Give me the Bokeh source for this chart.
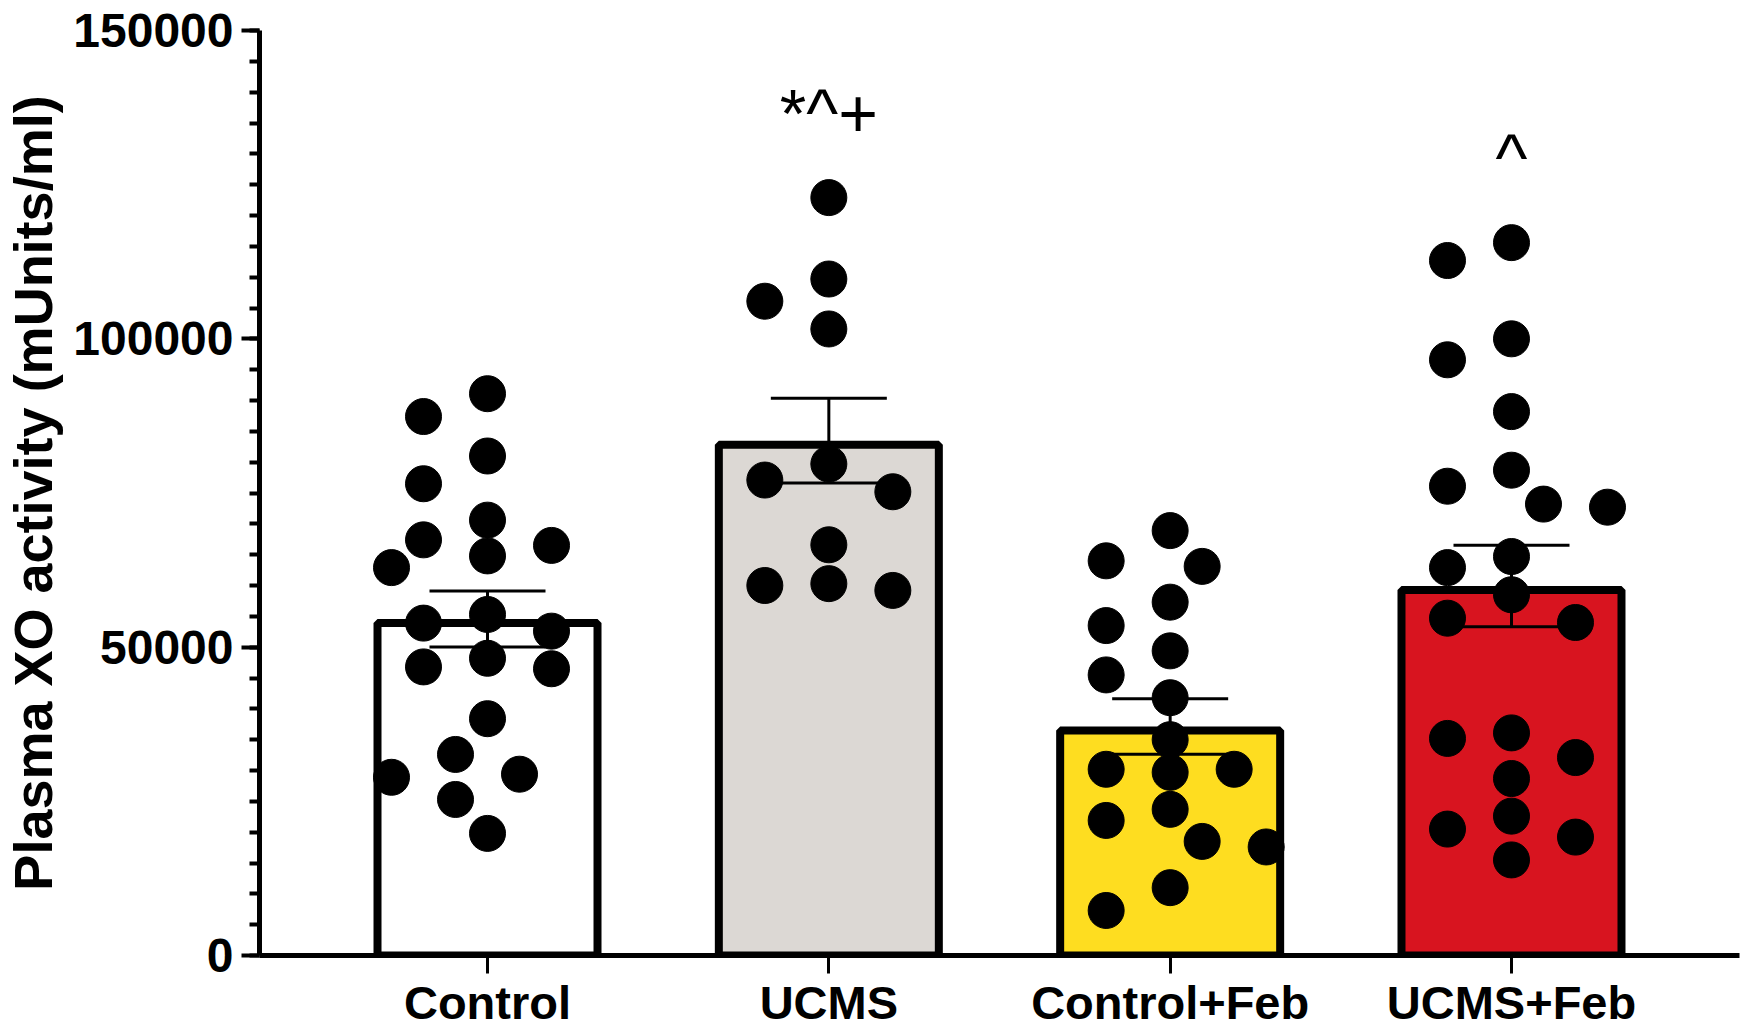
import numpy as np
from bokeh.plotting import figure
from bokeh.models import Range1d, FixedTicker, SingleIntervalTicker, ColumnDataSource, Whisker, TeeHead
from bokeh.core.properties import value
from bokeh.embed import file_html
from bokeh.resources import INLINE

# ---------------- data ----------------
categories = ["Control", "UCMS", "Control+Feb", "UCMS+Feb"]
control = [91100, 87400, 81000, 76500, 70600, 66500, 64800, 67400, 62900, 53900, 55300,
           52600, 46500, 46800, 48200, 38400, 32600, 28900, 29400, 25300, 19800]
ucms = [122900, 109700, 106100, 101600, 79700, 77100, 75200, 66600, 60300, 59200, 60000]
control_feb = [68900, 63100, 64000, 57300, 53500, 49400, 45500, 41800, 35000, 29700, 30200,
               30200, 21900, 23700, 17600, 18500, 11000, 7300]
ucms_feb = [115600, 112700, 100000, 96600, 88200, 78700, 72700, 76100, 73200, 64700, 62900,
            58500, 54000, 54700, 36100, 35200, 32100, 28700, 22600, 20500, 19200, 15500]
groups = [control, ucms, control_feb, ucms_feb]
bar_colors = ["#ffffff", "#dcd8d4", "#fedd20", "#d8141f"]
significance = ["", "*^+", "", "^"]
y_label = "Plasma XO activity (mUnits/ml)"

# ---------------- layout ----------------
W, H = 1750, 1033
BL, BR, BT, BB = 259, 11, 30, 78
XPAD = 0.668
Y_MAX = 150000
frame_w = W - BL - BR
frame_h = H - BT - BB
px_per_x = frame_w / (len(categories) - 1 + 2 * XPAD)
px_per_y = frame_h / Y_MAX

BAR_LW = 8
DOT = 36

p = figure(width=W, height=H, output_backend="svg", toolbar_location=None,
           x_range=Range1d(-XPAD, len(categories) - 1 + XPAD),
           y_range=Range1d(0, Y_MAX),
           min_border_left=BL, min_border_right=BR, min_border_top=BT, min_border_bottom=BB)
p.outline_line_color = None
p.grid.visible = False
p.background_fill_color = "white"
p.border_fill_color = "white"

xs = list(range(len(categories)))
means = [float(np.mean(g)) for g in groups]
sems = [float(np.std(g, ddof=1) / np.sqrt(len(g))) for g in groups]

# bars: outer edge of the outline at the mean
inset = (BAR_LW / 2) / px_per_y
bar_w = (228 - BAR_LW) / px_per_x
bars = ColumnDataSource(dict(x=xs, top=[m - inset for m in means], color=bar_colors))
p.vbar(x="x", top="top", bottom=0, width=bar_w, source=bars, fill_color="color",
       line_color="black", line_width=BAR_LW)


# beeswarm placement of points
def swarm(vals):
    vals = np.asarray(vals, dtype=float)
    order = np.argsort(-vals)
    placed = []
    offs = np.zeros(len(vals))
    step = 32.0
    rx, ry = 64.0, float(DOT)
    cands = [0, -1, 1, -2, 2, -3, 3]
    for i in order:
        y = vals[i] * px_per_y
        best, best_score, bx = None, -1, 0.0
        for k in cands:
            x = k * step
            score = min([((x - a) / rx) ** 2 + ((y - b) / ry) ** 2 for a, b in placed] or [9.0])
            if score >= 1.0:
                best = x
                break
            if score > best_score:
                best_score, bx = score, x
        if best is None:
            best = bx
        placed.append((best, y))
        offs[i] = best / px_per_x
    return offs


px, py = [], []
for i, g in enumerate(groups):
    o = swarm(g)
    px += list(i + o)
    py += list(g)
p.scatter(px, py, size=DOT, fill_color="black", line_color="black", line_width=1)

# error bars (mean +/- SEM)
err = ColumnDataSource(dict(x=xs, upper=[m + s for m, s in zip(means, sems)],
                            lower=[m - s for m, s in zip(means, sems)]))
w = Whisker(base="x", upper="upper", lower="lower", source=err, line_width=3, line_color="black",
            upper_head=TeeHead(size=116, line_width=3, line_color="black"),
            lower_head=TeeHead(size=116, line_width=3, line_color="black"), level="overlay")
p.add_layout(w)

# significance marks
sig_x = [i for i, s in enumerate(significance) if s]
sig_y = [max(groups[i]) + 13700 for i in sig_x]
sig_t = [significance[i] for i in sig_x]
p.text(x=sig_x, y=sig_y, text=sig_t, text_align="center", text_baseline="alphabetic",
       text_font=value("Liberation Sans"), text_font_size="68px", text_color="black")

# axes
xa = p.xaxis[0]
xa.ticker = FixedTicker(ticks=xs)
xa.major_label_overrides = {i: c for i, c in enumerate(categories)}
xa.axis_line_width = 5
xa.major_tick_line_width = 3
xa.major_tick_out = 18
xa.major_tick_in = 0
xa.minor_tick_out = 0
xa.major_label_standoff = 2
xa.major_label_text_font = "Liberation Sans"
xa.major_label_text_font_style = "bold"
xa.major_label_text_font_size = "47px"
xa.major_label_text_color = "black"

ya = p.yaxis[0]
ya.ticker = SingleIntervalTicker(interval=50000, num_minor_ticks=10)
ya.axis_line_width = 5
ya.major_tick_line_width = 4
ya.minor_tick_line_width = 4
ya.major_tick_out = 18
ya.major_tick_in = 0
ya.minor_tick_out = 10
ya.minor_tick_in = 0
ya.major_label_standoff = 8
ya.major_label_text_font = "Liberation Sans"
ya.major_label_text_font_style = "bold"
ya.major_label_text_font_size = "48px"
ya.major_label_text_color = "black"
ya.formatter.use_scientific = False
ya.axis_label = y_label
ya.axis_label_text_font = "Liberation Sans"
ya.axis_label_text_font_style = "bold"
ya.axis_label_text_font_size = "54px"
ya.axis_label_text_color = "black"
ya.axis_label_standoff = 7

open("out.html", "w").write(file_html(p, INLINE))
